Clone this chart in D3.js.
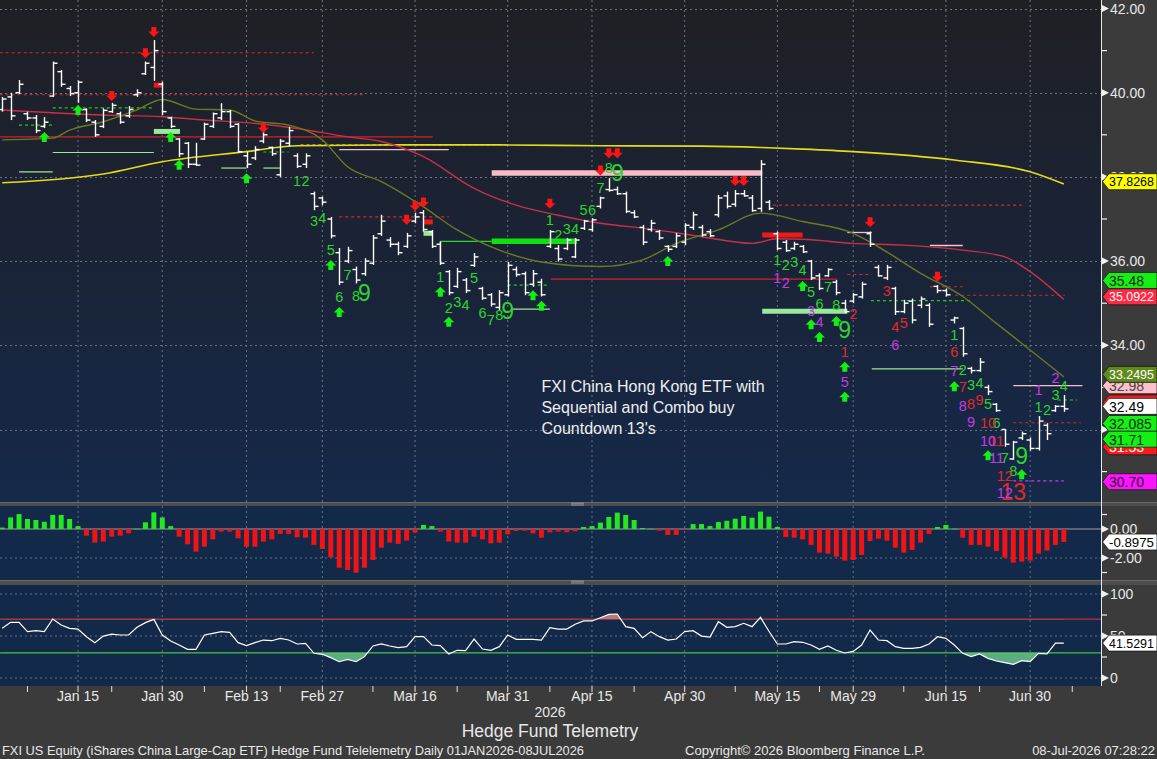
<!DOCTYPE html>
<html><head><meta charset="utf-8">
<script src="https://cdn.jsdelivr.net/npm/d3@7"></script>
<style>html,body{margin:0;padding:0;background:#3b3b3b;overflow:hidden}svg{display:block}</style>
</head><body><svg id="c" width="1157" height="759"></svg>
<script>
// ---------------- DATA ----------------
const holidays = ["2026-01-01","2026-01-19","2026-02-16","2026-04-03","2026-05-25","2026-06-19","2026-07-03"];
const majorTickDates = ["2026-01-15","2026-01-30","2026-02-13","2026-02-27","2026-03-16","2026-03-31","2026-04-15","2026-04-30","2026-05-15","2026-05-29","2026-06-15","2026-06-30"];
const majorTickLabels = ["Jan 15","Jan 30","Feb 13","Feb 27","Mar 16","Mar 31","Apr 15","Apr 30","May 15","May 29","Jun 15","Jun 30"];
const minorTickDates = ["2026-01-07","2026-01-22","2026-02-06","2026-02-20","2026-03-09","2026-03-23","2026-04-08","2026-04-22","2026-05-08","2026-05-22","2026-06-08","2026-06-22","2026-07-08"];

const highs = [39.90,40.00,40.30,39.55,39.47,39.42,40.74,40.54,40.16,40.29,39.63,39.35,39.63,39.76,39.55,39.68,40.08,40.74,41.25,40.26,39.43,38.92,38.83,38.81,39.29,39.53,39.75,39.59,39.28,38.60,38.73,39.11,38.72,38.90,39.19,38.56,38.56,37.65,37.53,37.05,36.31,36.34,35.87,36.07,36.62,37.10,36.57,36.46,36.67,37.15,37.21,36.74,36.46,35.79,35.84,35.60,36.19,35.39,35.24,35.31,35.98,35.87,35.75,35.79,35.58,36.74,36.38,36.55,36.55,36.98,37.02,37.53,37.97,37.77,37.65,37.21,36.86,36.98,36.74,36.38,36.67,36.90,37.17,36.86,36.76,37.57,37.65,37.69,37.69,37.57,38.40,37.45,36.70,36.50,36.46,36.38,36.03,35.71,35.83,35.55,35.08,35.24,35.51,36.70,35.91,35.91,35.39,35.08,35.11,35.16,35.00,35.43,35.35,34.68,34.44,33.49,33.70,33.06,32.63,32.01,31.73,31.95,31.81,32.32,32.15,32.58,32.82];
const lows  = [39.55,39.35,39.97,39.35,39.04,39.16,39.90,40.14,39.92,39.76,39.30,38.95,39.16,39.52,39.26,39.40,39.90,40.42,40.28,39.47,39.16,38.47,38.21,38.26,38.88,39.16,39.35,39.16,38.57,38.21,38.40,38.80,38.50,38.00,38.72,38.21,38.21,37.21,37.33,36.54,35.43,35.95,35.47,35.65,35.91,36.60,36.33,36.14,36.31,36.90,36.70,36.31,35.91,35.19,35.36,35.24,35.86,35.08,34.92,34.84,35.16,35.63,35.19,35.39,35.16,36.31,35.99,36.26,36.07,36.74,36.70,37.25,37.65,37.57,37.14,37.02,36.38,36.70,36.50,36.22,36.31,36.38,36.74,36.58,36.57,37.04,37.25,37.29,37.53,37.17,37.17,37.21,36.26,36.22,36.26,36.19,35.55,35.31,35.63,35.19,34.76,35.00,35.11,36.34,35.63,35.55,34.72,34.76,34.52,34.88,34.44,35.24,35.16,34.52,33.73,33.33,33.37,32.82,32.42,31.59,31.28,31.75,31.50,31.50,31.75,32.42,32.42];
const opens = [39.60,39.90,40.00,39.50,39.40,39.20,39.92,40.50,40.10,40.00,39.60,39.30,39.20,39.55,39.50,39.45,39.95,40.45,40.60,40.20,39.40,38.90,38.80,38.30,38.90,39.20,39.40,39.55,39.25,38.50,38.45,38.85,38.70,38.05,38.80,38.50,38.30,37.60,37.50,37.00,36.20,36.00,35.80,35.70,35.95,36.65,36.50,36.40,36.35,36.95,37.15,36.70,36.40,35.75,35.40,35.55,35.90,35.35,35.20,34.90,35.20,35.80,35.70,35.45,35.50,36.35,36.30,36.30,36.10,36.78,36.75,37.30,37.70,37.70,37.60,37.15,36.80,36.75,36.70,36.35,36.35,36.45,36.80,36.80,36.70,37.10,37.55,37.35,37.60,37.50,37.25,37.40,36.65,36.45,36.30,36.35,36.00,35.65,35.65,35.50,35.00,35.05,35.15,36.65,35.85,35.60,35.35,34.80,35.05,34.95,34.95,35.40,35.30,34.60,34.40,33.45,33.40,33.00,32.60,32.00,31.30,31.80,31.75,31.55,32.10,32.45,32.55];
const closes = [39.85,39.45,40.20,39.40,39.10,39.30,40.70,40.20,39.98,40.25,39.35,39.00,39.58,39.70,39.30,39.60,40.00,40.70,41.00,39.55,39.20,38.55,38.30,38.28,39.25,39.50,39.55,39.20,38.60,38.30,38.65,39.00,38.55,38.85,39.10,38.25,38.50,37.30,37.40,36.60,35.50,36.25,35.55,36.00,36.55,36.95,36.40,36.20,36.60,37.05,36.75,36.35,35.95,35.25,35.75,35.30,36.10,35.12,34.98,35.25,35.90,35.68,35.25,35.70,35.20,36.70,36.05,36.50,36.50,36.95,36.98,37.50,37.68,37.60,37.18,37.05,36.45,36.90,36.55,36.28,36.60,36.85,37.10,36.62,36.60,37.50,37.30,37.60,37.55,37.20,38.30,37.25,36.30,36.25,36.40,36.22,35.60,35.35,35.80,35.25,34.80,35.20,35.45,36.40,35.65,35.85,34.80,35.00,34.60,35.10,34.50,35.30,35.20,34.65,33.80,33.40,33.60,32.90,32.45,31.65,31.70,31.90,31.55,32.20,31.90,32.55,32.49];

const histVals = [0.10,0.80,1.03,0.69,0.62,0.50,0.97,0.97,0.69,0.20,-0.46,-0.94,-0.87,-0.53,-0.46,-0.30,0.02,0.46,1.15,0.80,0.20,-0.53,-1.06,-1.56,-1.22,-0.71,-0.18,-0.18,-0.64,-1.22,-1.22,-0.87,-0.71,-0.34,-0.34,-0.57,-0.60,-1.10,-1.38,-1.95,-2.67,-2.83,-3.01,-2.67,-2.14,-1.29,-0.94,-1.03,-0.80,-0.25,0.28,0.20,-0.18,-0.87,-0.94,-0.94,-0.53,-0.71,-0.99,-0.94,-0.37,-0.14,-0.12,-0.30,-0.60,-0.23,-0.18,-0.23,-0.16,0.14,0.20,0.44,0.83,1.13,0.97,0.62,0.07,0.02,-0.12,-0.41,-0.41,-0.02,0.34,0.34,0.20,0.48,0.57,0.71,0.90,0.78,1.20,0.85,0.14,-0.55,-0.60,-0.71,-1.10,-1.63,-1.70,-1.91,-2.18,-2.14,-1.79,-0.83,-0.67,-0.80,-1.29,-1.63,-1.45,-0.94,-0.34,0.14,0.28,0.02,-0.60,-1.10,-1.10,-1.22,-1.52,-1.98,-2.32,-2.25,-2.18,-1.70,-1.49,-1.10,-0.90];
const oscVals = [59.1,66.3,66.3,55.2,56.3,55.2,70.2,63.1,59.1,58.3,49.2,42.1,49.9,52.3,51.2,51.2,60.3,65.9,69.8,51.2,44.0,39.3,34.1,34.1,51.2,53.2,55.2,54.4,42.1,38.5,42.1,45.2,44.4,47.2,45.2,40.5,41.3,29.4,28.2,24.2,19.4,22.2,19.4,25.4,38.1,40.5,38.1,36.1,37.3,49.2,49.2,39.3,38.5,28.6,33.0,32.7,46.4,34.5,33.0,37.3,51.2,46.0,46.0,46.0,45.2,60.0,58.3,58.3,64.0,67.9,67.9,71.8,75.8,76.2,61.1,59.1,48.0,55.2,49.2,45.2,46.4,55.2,56.3,49.9,48.8,67.1,60.3,61.1,65.1,61.1,72.2,55.6,40.5,40.5,43.3,42.5,39.3,34.1,38.1,33.0,29.8,31.7,39.3,57.1,45.2,44.4,37.3,35.3,35.3,36.5,40.5,49.2,47.2,39.3,29.4,25.4,28.6,23.4,20.2,18.3,16.3,20.6,19.4,29.4,28.6,41.5,41.5];

// moving averages read at selected bars: [bar, value]
const ma200 = [[0,37.86],[12,38.07],[19,38.36],[29,38.60],[35,38.74],[47,38.76],[59,38.76],[71,38.74],[83,38.73],[90,38.70],[95,38.66],[101,38.60],[113,38.40],[122,38.12],[126,37.83]];
const ma50 = [[0,39.59],[12,39.47],[19,39.43],[24,39.35],[29,39.29],[35,39.15],[41,38.95],[45,38.84],[50,38.48],[56,37.73],[61,37.33],[66,37.09],[71,36.90],[77,36.76],[83,36.58],[89,36.42],[92,36.53],[95,36.52],[101,36.42],[107,36.38],[114,36.26],[119,36.10],[122,35.75],[126,35.09]];
const ma20 = [[0,38.88],[6,38.92],[8,39.11],[12,39.31],[16,39.59],[19,39.84],[23,39.61],[27,39.59],[30,39.33],[34,39.23],[38,38.88],[41,38.24],[45,37.89],[50,37.29],[54,36.74],[59,36.26],[64,35.98],[71,35.87],[76,36.03],[80,36.42],[85,36.74],[90,37.14],[95,36.94],[101,36.66],[104,36.34],[109,35.71],[114,35.16],[118,34.52],[122,33.89],[126,33.25]];

// level lines: [fromBar, toBar, price]
const redDotted = [[-0.3,37,40.95],[-0.3,43.1,39.95],[40,53,37.05],[91.5,121,37.33],[100.3,103.2,35.68],[110.1,114,35.39],[113.1,126.1,35.19],[120,128,32.16]];
const greenDotted = [[6,17.9,39.64],[2,6,39.23],[31,34,38.59],[60,65,35.43],[103.1,115.1,35.06],[125.3,127.6,32.70]];
const redSolid = [[-0.3,51.1,38.95],[65.1,99.1,35.57]];
const lightGreenThin = [[6,18,38.58],[2,6,38.12],[26,29,38.21],[31,33,38.21],[60.5,65,34.86],[103.2,114,33.44]];
const limeThin = [[52,58.1,36.47]];
const pinkThin = [[40,53,38.65],[100.3,103.2,36.68],[110.1,114,36.37],[120,128.2,33.04]];
const orangeDotted = [[35.4,60,38.76]];
const magentaDotted = [[120,126,30.78]];
const pinkThick = [[58.1,90.2,38.09]];
const limeThick = [[58.1,68.2,36.47]];
const lightGreenThick = [[18,21.1,39.08],[50,51.1,36.66],[90.2,100.3,34.81]];
const redThick = [[18,19.1,40.18],[50,51.1,36.93],[90.2,95,36.62]];

// arrows: [bar, price]
const sellArrows = [[13,39.92],[17,40.94],[18,41.44],[31,39.16],[48,36.98],[49,37.31],[50,37.39],[65,37.36],[71,38.15],[72,38.56],[73,38.56],[87,37.90],[88,37.90],[103,36.92],[111,35.63]];
const buyArrows = [[5,38.95],[9,39.59],[20,38.95],[21,38.29],[29,37.97],[39,35.91],[40,34.79],[52,35.27],[53,34.56],[63,35.19],[64,34.94],[79,36.00],[95,35.41],[96,34.50],[97,34.20],[99,34.58],[100,33.49],[100,32.78],[113,33.03],[117,31.39],[121,30.94]];

// counts: [bar, price, label]
const setupCounts = [[35,37.9,"1"],[36,37.9,"2"],[37,36.95,"3"],[38,37.02,"4"],[39,36.26,"5"],[40,35.14,"6"],[41,35.67,"7"],[42,35.17,"8"],[43,35.24,"9"],
 [52,35.63,"1"],[53,34.89,"2"],[54,35.02,"3"],[55,34.95,"4"],[56,35.59,"5"],[57,34.76,"6"],[58,34.60,"7"],[59,34.72,"8"],[60,34.81,"9"],
 [65,36.97,"1"],[66,36.62,"2"],[67,36.76,"3"],[68,36.76,"4"],[69,37.21,"5"],[70,37.21,"6"],[71,37.73,"7"],[72,38.20,"8"],[73,38.09,"9"],
 [92,36.03,"1"],[93,35.90,"2"],[94,35.98,"3"],[95,35.79,"4"],[96,35.27,"5"],[97,34.98,"6"],[98,35.39,"7"],[99,34.96,"8"],[100,34.36,"9"],
 [113,34.24,"1"],[114,33.41,"2"],[115,33.06,"3"],[116,33.11,"4"],[117,32.60,"5"],[118,32.15,"6"],[119,31.32,"7"],[120,31.01,"8"],[121,31.37,"9"],
 [123,32.54,"1"],[124,32.46,"2"],[125,32.82,"3"],[126,33.03,"4"]];
const sequentialCounts = [[100,33.85,"1"],[101,34.74,"2"],[105,35.29,"3"],[106,34.44,"4"],[107,34.52,"5"],[113,33.83,"6"],[114,33.00,"7"],[115,32.60,"8"],[116,32.70,"9"],[117,32.15,"10"],[118,31.73,"11"],[119,30.90,"12"],[120,30.52,"13"]];
const comboCounts = [[92,35.60,"1"],[93,35.49,"2"],[96,34.82,"3"],[97,34.56,"4"],[100,33.14,"5"],[106,34.00,"6"],[113,33.40,"7"],[114,32.57,"8"],[115,32.19,"9"],[117,31.73,"10"],[118,31.32,"11"],[119,30.48,"12"],[123,32.95,"1"],[125,33.23,"2"]];

const noteLines = ["FXI China Hong Kong ETF with","Sequential and Combo buy","Countdown 13's"];
const noteAnchor = [64, 33.03];

const priceTicks = [42,40,38,36,34,32];
const priceMinor = [41,39,37,35,33,31];
const histTicks = [0,-2];
const histMinor = [1,-3];
const oscTicks = [100,50,0];
const oscMinor = [75,25];

const tagValues = [37.8268,35.48,35.0922,32.98,33.2495,32.57,32.49,31.53,32.085,31.71,30.70];
const tagLabels = ["37.8268","35.48","35.0922","32.98","33.2495","32.57","32.49","31.53","32.085","31.71","30.70"];
const histLast = -0.8975, oscLast = 41.5291;

const footerLeft = "FXI US Equity (iShares China Large-Cap ETF) Hedge Fund Telelemetry Daily 01JAN2026-08JUL2026";
const footerMid = "Copyright\u00A9 2026 Bloomberg Finance L.P.";
const footerRight = "08-Jul-2026 07:28:22";
const yearLabel = "2026", chartTitle = "Hedge Fund Telemetry";

// ---------------- RENDER ----------------
const fmt = d3.utcFormat("%Y-%m-%d");
const days = d3.utcDays(new Date(Date.UTC(2026,0,2)), new Date(Date.UTC(2026,6,25)))
  .filter(d => d.getUTCDay()!==0 && d.getUTCDay()!==6 && !holidays.includes(fmt(d))).map(fmt);
const dayIdx = new Map(days.map((d,i)=>[d,i]));

const AX = 1101, W = 1157, H = 759;
const MAIN = [0,502], HIST = [506,580], OSC = [585,686];
const FONT = "'Liberation Sans', Arial, sans-serif";
const x = d3.scaleLinear().domain([-0.26,130.41]).range([0,AX]);
const y = d3.scaleLinear().domain([42,30]).range([8.5,513.7]);
const yh = d3.scaleLinear().domain([0,-2]).range([529,558]);
const yo = d3.scaleLinear().domain([100,0]).range([594,678]);

const svg = d3.select("#c");
const defs = svg.append("defs");
const g1 = defs.append("linearGradient").attr("id","mainbg").attr("x1",0).attr("x2",0).attr("y1",0).attr("y2",1);
g1.append("stop").attr("offset","0%").attr("stop-color","#1f2024");
g1.append("stop").attr("offset","40%").attr("stop-color","#1b2232");
g1.append("stop").attr("offset","100%").attr("stop-color","#15294a");
[["cm",MAIN],["ch",HIST],["co",OSC]].forEach(([id,r])=>{
  defs.append("clipPath").attr("id",id).append("rect").attr("x",0).attr("y",r[0]).attr("width",AX).attr("height",r[1]-r[0]);
});
defs.append("clipPath").attr("id","below30").append("rect").attr("x",0).attr("y",yo(30)).attr("width",AX).attr("height",OSC[1]-yo(30));
defs.append("clipPath").attr("id","above70").append("rect").attr("x",0).attr("y",OSC[0]).attr("width",AX).attr("height",yo(70)-OSC[0]);

svg.append("rect").attr("width",W).attr("height",H).attr("fill","#3b3b3b");
svg.append("rect").attr("x",0).attr("y",MAIN[0]).attr("width",AX).attr("height",MAIN[1]-MAIN[0]).attr("fill","url(#mainbg)");
svg.append("rect").attr("x",0).attr("y",HIST[0]).attr("width",AX).attr("height",HIST[1]-HIST[0]).attr("fill","#12294a");
svg.append("rect").attr("x",0).attr("y",OSC[0]).attr("width",AX).attr("height",OSC[1]-OSC[0]).attr("fill","#12294a");
[[502,4],[580,5]].forEach(([yy,hh])=>{
  svg.append("rect").attr("x",0).attr("y",yy).attr("width",W).attr("height",hh).attr("fill","#4d4d4d");
  svg.append("line").attr("x1",0).attr("x2",W).attr("y1",yy+0.5).attr("y2",yy+0.5).attr("stroke","#6a6a6a");
  svg.append("line").attr("x1",571).attr("x2",584).attr("y1",yy+1.2).attr("y2",yy+1.2).attr("stroke","#aaa").attr("stroke-width",0.8);
  svg.append("line").attr("x1",571).attr("x2",584).attr("y1",yy+3).attr("y2",yy+3).attr("stroke","#aaa").attr("stroke-width",0.8);
});

const gridC = "#69717f";
[MAIN,HIST,OSC].forEach(r=>{
  svg.append("g").selectAll("line").data(majorTickDates).join("line")
    .attr("x1",d=>x(dayIdx.get(d))).attr("x2",d=>x(dayIdx.get(d)))
    .attr("y1",r[0]).attr("y2",r[1]).attr("stroke",gridC).attr("stroke-width",1).attr("stroke-dasharray","2,3");
});
svg.append("g").selectAll("line").data(priceTicks).join("line")
  .attr("x1",0).attr("x2",AX).attr("y1",d=>Math.round(y(d))+0.5).attr("y2",d=>Math.round(y(d))+0.5)
  .attr("stroke",gridC).attr("stroke-dasharray","2,3");
svg.append("line").attr("x1",0).attr("x2",AX).attr("y1",yh(-2)).attr("y2",yh(-2)).attr("stroke",gridC).attr("stroke-dasharray","2,3");
svg.append("g").selectAll("line").data(oscTicks).join("line")
  .attr("x1",0).attr("x2",AX).attr("y1",d=>yo(d)).attr("y2",d=>yo(d)).attr("stroke",gridC).attr("stroke-dasharray","2,3");

// ---- main panel
const gm = svg.append("g").attr("clip-path","url(#cm)");
function levels(arr, color, width, dash){
  gm.append("g").selectAll("line").data(arr).join("line")
    .attr("x1",d=>x(d[0])).attr("x2",d=>x(d[1])).attr("y1",d=>y(d[2])).attr("y2",d=>y(d[2]))
    .attr("stroke",color).attr("stroke-width",width).attr("stroke-dasharray",dash||null);
}
levels(redSolid,"#d0202a",1.2);
levels(pinkThin,"#f4c2cc",1.3);
levels(lightGreenThin,"#9ae89a",1.2);
levels(limeThin,"#22dd22",1.2);
gm.append("g").selectAll("line").data(limeThin).join("line")
  .attr("x1",d=>x(d[0])).attr("x2",d=>x(d[0])).attr("y1",d=>y(d[2])).attr("y2",d=>y(d[2]-0.5))
  .attr("stroke","#dddddd").attr("stroke-width",1.2);
levels(redDotted,"#d22a2a",1.1,"3,3");
levels(greenDotted,"#22cc22",1.1,"3,3");
levels(orangeDotted,"#e09a30",1.1,"3,3");
levels(magentaDotted,"#c43ce0",1.1,"3,3");
levels(pinkThick,"#f7bcc6",5.5);
levels(limeThick,"#10e010",5.5);
levels(lightGreenThick,"#9ae89a",5);
levels(redThick,"#ee1a1a",5);

const maLine = d3.line().x(d=>x(d[0])).y(d=>y(d[1])).curve(d3.curveMonotoneX);
gm.append("path").attr("d",maLine(ma200)).attr("fill","none").attr("stroke","#e2dc1a").attr("stroke-width",1.6);
gm.append("path").attr("d",maLine(ma50)).attr("fill","none").attr("stroke","#c83048").attr("stroke-width",1.4);
gm.append("path").attr("d",maLine(ma20)).attr("fill","none").attr("stroke","#6b7a22").attr("stroke-width",1.4);

const bars = gm.append("g").attr("stroke","#ffffff").attr("stroke-width",1.4);
highs.forEach((h,i)=>{
  const cx = Math.round(x(i))+0.5;
  bars.append("line").attr("x1",cx).attr("x2",cx).attr("y1",y(h)).attr("y2",y(lows[i]));
  bars.append("line").attr("x1",cx-4).attr("x2",cx).attr("y1",y(opens[i])).attr("y2",y(opens[i]));
  bars.append("line").attr("x1",cx).attr("x2",cx+4).attr("y1",y(closes[i])).attr("y2",y(closes[i]));
});

const downArrow = (cx,cy)=>`M${cx-2.5},${cy-5}H${cx+2.5}V${cy-0.5}H${cx+5.5}L${cx},${cy+5}L${cx-5.5},${cy-0.5}H${cx-2.5}Z`;
const upArrow = (cx,cy)=>`M${cx-2.5},${cy+5}H${cx+2.5}V${cy+0.5}H${cx+5.5}L${cx},${cy-5}L${cx-5.5},${cy+0.5}H${cx-2.5}Z`;
gm.append("g").selectAll("path").data(sellArrows).join("path").attr("d",d=>downArrow(x(d[0]),y(d[1]))).attr("fill","#ff1414");
gm.append("g").selectAll("path").data(buyArrows).join("path").attr("d",d=>upArrow(x(d[0]),y(d[1]))).attr("fill","#14ee14");

function counts(arr,color,bigLabels){
  gm.append("g").selectAll("text").data(arr).join("text")
    .attr("x",d=>x(d[0])).attr("y",d=>y(d[1])).attr("text-anchor","middle").attr("dominant-baseline","central")
    .attr("font-family",FONT).attr("font-size",d=>bigLabels.includes(d[2])?23:14.5).attr("fill",color).text(d=>d[2]);
}
counts(setupCounts,"#2ed42e",["9"]);
counts(sequentialCounts,"#e02a2a",["13"]);
counts(comboCounts,"#c23de0",[]);

gm.append("g").selectAll("text").data(noteLines).join("text")
  .attr("x",x(noteAnchor[0])).attr("y",(d,i)=>y(noteAnchor[1])+i*21).attr("dominant-baseline","central")
  .attr("font-family",FONT).attr("font-size",16).attr("fill","#eeeeee").text(d=>d);

// ---- histogram
const gh = svg.append("g").attr("clip-path","url(#ch)");
gh.append("line").attr("x1",0).attr("x2",AX).attr("y1",yh(0)).attr("y2",yh(0)).attr("stroke","#a0a0a0").attr("stroke-width",1.2);
gh.append("g").selectAll("rect").data(histVals).join("rect")
  .attr("x",(d,i)=>x(i)-2.5).attr("width",5)
  .attr("y",d=>d>=0?yh(d):yh(0)).attr("height",d=>Math.max(0.5,Math.abs(yh(d)-yh(0))))
  .attr("fill",d=>d>=0?"#22e822":"#f01414");

// ---- oscillator
const go = svg.append("g").attr("clip-path","url(#co)");
go.append("line").attr("x1",0).attr("x2",AX).attr("y1",yo(70)).attr("y2",yo(70)).attr("stroke","#c0303a").attr("stroke-width",1.3);
go.append("line").attr("x1",0).attr("x2",AX).attr("y1",yo(30)).attr("y2",yo(30)).attr("stroke","#40c040").attr("stroke-width",1.3);
const oscArea30 = d3.area().x((d,i)=>x(i)).y0(yo(30)).y1(d=>yo(d));
const oscArea70 = d3.area().x((d,i)=>x(i)).y0(yo(70)).y1(d=>yo(d));
go.append("path").attr("d",oscArea30(oscVals)).attr("fill","#6cc48a").attr("opacity",0.85).attr("clip-path","url(#below30)");
go.append("path").attr("d",oscArea70(oscVals)).attr("fill","#c58a8a").attr("opacity",0.85).attr("clip-path","url(#above70)");
go.append("path").attr("d",d3.line().x((d,i)=>x(i)).y(d=>yo(d))(oscVals)).attr("fill","none").attr("stroke","#ffffff").attr("stroke-width",1.2);

// ---- right axes
svg.append("line").attr("x1",AX+0.5).attr("x2",AX+0.5).attr("y1",0).attr("y2",OSC[1]).attr("stroke","#e8e8e8").attr("stroke-width",1);
const axisText = "#e8e8e8";
const MAXW = W - (AX+8) - 3;
function fitText(sel){
  sel.each(function(){
    const t = d3.select(this); const fs = +t.attr("font-size"); const w = this.getComputedTextLength();
    if (w > MAXW) t.attr("font-size", (fs*MAXW/w).toFixed(2));
  });
}
function axisLabels(vals, scale, fmtf){
  const g = svg.append("g");
  g.selectAll("path").data(vals).join("path")
    .attr("d",d=>{const yy=scale(d);return `M${AX+1},${yy-3.5}L${AX+8},${yy}L${AX+1},${yy+3.5}Z`;}).attr("fill","#f0f0f0");
  g.selectAll("text").data(vals).join("text").attr("x",AX+9).attr("y",d=>scale(d)).attr("dominant-baseline","central")
    .attr("font-family",FONT).attr("font-size",14).attr("fill",axisText).text(fmtf).call(fitText);
}
function minorTicks(vals, scale){
  svg.append("g").selectAll("line").data(vals).join("line")
    .attr("x1",AX+1).attr("x2",AX+6).attr("y1",d=>scale(d)).attr("y2",d=>scale(d)).attr("stroke","#f0f0f0").attr("stroke-width",1.2);
}
axisLabels(priceTicks,y,d=>d.toFixed(2)); minorTicks(priceMinor,y);
axisLabels(histTicks,yh,d=>d.toFixed(2)); minorTicks(histMinor,yh);
axisLabels(oscTicks,yo,d=>String(d)); minorTicks(oscMinor,yo);

const tagStyle = {
  "37.8268":["#ffff00","#000000"],"35.48":["#14f014","#0a2a0a"],"35.0922":["#ff2a44","#ffffff"],
  "32.98":["#ffc0cb","#444444"],"33.2495":["#5f8a1c","#ffffff"],"32.57":["#ff1a1a","#ffffff"],
  "32.49":["#ffffff","#000000"],"31.53":["#ff1a1a","#ffffff"],"32.085":["#14f014","#0a2a0a"],
  "31.71":["#14f014","#0a2a0a"],"30.70":["#ff14ff","#2a002a"]
};
function tag(yc, label, bg, fg){
  const g = svg.append("g");
  g.append("path").attr("d",`M${AX+1.5},${yc}L${AX+8},${yc-8}H${W}V${yc+8}H${AX+8}Z`).attr("fill",bg).attr("stroke","#1a1a1a").attr("stroke-width",0.8);
  g.append("text").attr("x",AX+8).attr("y",yc+0.5).attr("dominant-baseline","central").attr("font-family",FONT)
    .attr("font-size",14).attr("fill",fg).text(label).call(fitText);
}
tagValues.forEach((v,i)=>{ const s = tagStyle[tagLabels[i]]; tag(y(v)-2.5, tagLabels[i], s[0], s[1]); });
tag(yh(histLast), histLast.toFixed(4), "#ffffff", "#000000");
tag(yo(oscLast), oscLast.toFixed(4), "#ffffff", "#000000");

// ---- x axis
const gx = svg.append("g");
gx.selectAll("line").data(majorTickDates.concat(minorTickDates)).join("line")
  .attr("x1",d=>x(dayIdx.get(d))).attr("x2",d=>x(dayIdx.get(d))).attr("y1",OSC[1]).attr("y2",OSC[1]+6)
  .attr("stroke","#e0e0e0").attr("stroke-width",1);
gx.selectAll("text").data(majorTickDates).join("text")
  .attr("x",d=>x(dayIdx.get(d))).attr("y",701).attr("text-anchor","middle")
  .attr("font-family",FONT).attr("font-size",14).attr("fill",axisText).text((d,i)=>majorTickLabels[i]);
svg.append("text").attr("x",550).attr("y",717).attr("text-anchor","middle").attr("font-family",FONT).attr("font-size",14).attr("fill",axisText).text(yearLabel);
svg.append("text").attr("x",550).attr("y",737).attr("text-anchor","middle").attr("font-family",FONT).attr("font-size",17.5).attr("fill",axisText).text(chartTitle);
svg.append("text").attr("x",2).attr("y",755).attr("font-family",FONT).attr("font-size",13).attr("fill",axisText)
  .attr("textLength",582).attr("lengthAdjust","spacingAndGlyphs").text(footerLeft);
svg.append("text").attr("x",685).attr("y",755).attr("font-family",FONT).attr("font-size",13).attr("fill",axisText)
  .attr("textLength",240).attr("lengthAdjust","spacingAndGlyphs").text(footerMid);
svg.append("text").attr("x",1155).attr("y",755).attr("text-anchor","end").attr("font-family",FONT).attr("font-size",13).attr("fill",axisText)
  .text(footerRight);
</script></body></html>
